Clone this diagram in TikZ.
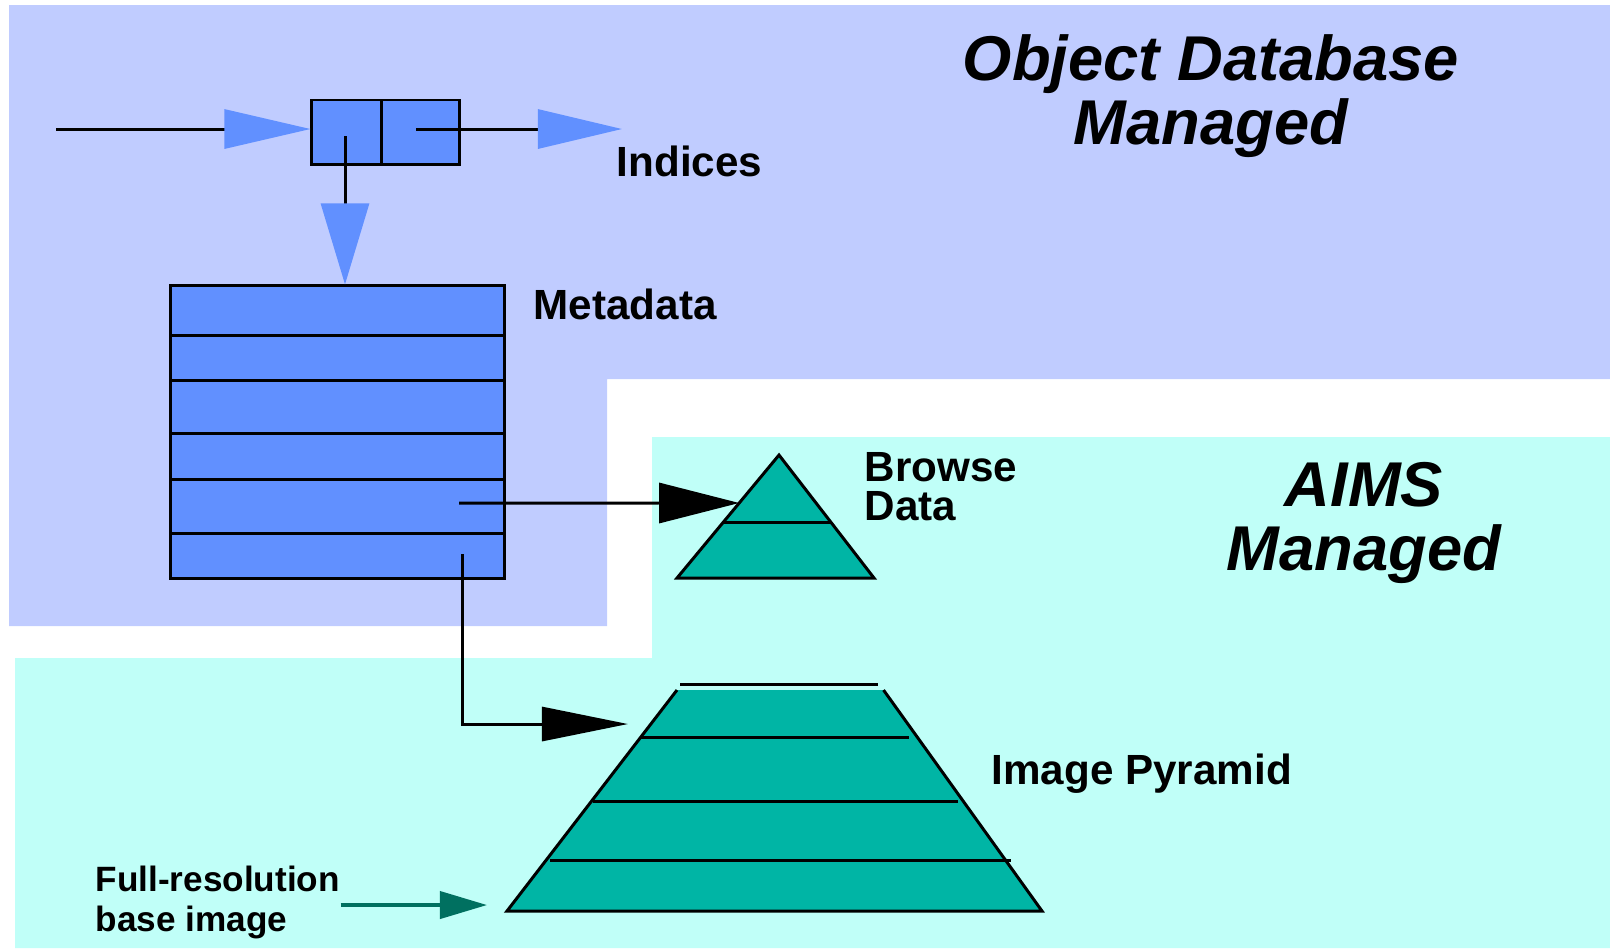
\documentclass[tikz,border=0pt]{standalone}
\usepackage{fontspec}
\setmainfont{Liberation Sans}
\usetikzlibrary{arrows.meta,calc}

\definecolor{odbBack}{RGB}{192,204,255}
\definecolor{aimsBack}{RGB}{192,255,248}
\definecolor{boxBlue}{RGB}{97,144,255}
\definecolor{pyrTeal}{RGB}{0,181,165}
\definecolor{darkTeal}{RGB}{0,112,96}

\begin{document}
\begin{tikzpicture}[x=0.01cm, y=-0.01cm,
	cell/.style={rectangle, draw=black, line width=0.85pt, fill=boxBlue, inner sep=0pt},
	txt/.style={inner sep=0pt, align=left, font=\fontsize{12}{11}\selectfont\bfseries},
	bigtxt/.style={inner sep=0pt, align=center, font=\fontsize{18}{18}\selectfont\bfseries\itshape},
	link/.style={line width=0.85pt},
	blueTip/.style={-{Triangle[length=#1, color=boxBlue]}}]
	\useasboundingbox (0,0) rectangle (1610,950);
	\fill[odbBack] (9,5) -- (1610,5) -- (1610,379) -- (607,379) -- (607,626) -- (9,626) -- cycle;
	\fill[aimsBack] (15,658) -- (652,658) -- (652,437) -- (1610,437) -- (1610,948) -- (15,948) -- cycle;
	\node[bigtxt](odbTitle) at (1211,96){Object Database\\Managed};
	\node[bigtxt](aimsTitle) at (1364,523){AIMS\\Managed};
	\node[cell, minimum width=0.70cm, minimum height=0.64cm](idxL) at (347,132){};
	\node[cell, minimum width=0.77cm, minimum height=0.64cm](idxR) at (420.5,132){};
	\node[txt, anchor=base west](indices) at (616,176){Indices};
	\node[cell, minimum width=3.33cm, minimum height=2.92cm](meta) at (337.5,432){};
	\foreach \y in {335,380,433,479,533}
		\draw[link] (meta.west |- 0,\y) -- (meta.east |- 0,\y);
	\node[txt, anchor=base west](metadata) at (533,319){Metadata};
	\coordinate(inStart) at (56,129);
	\coordinate(idxOut) at (416,129);
	\coordinate(idxEnd) at (622,129);
	\coordinate(idxDown) at (345,136);
	\draw[link, -{Triangle[length=0.86cm, width=0.39cm, color=boxBlue]}] (inStart) -- (idxL.west |- inStart);
	\draw[link, -{Triangle[length=0.84cm, width=0.39cm, color=boxBlue]}] (idxOut) -- (idxEnd);
	\draw[link, -{Triangle[length=0.81cm, width=0.48cm, color=boxBlue]}] (idxDown) -- (idxDown |- meta.north);
	\coordinate(brTop) at (779,455);
	\coordinate(brL) at (677,578);
	\coordinate(brR) at (874,578);
	\filldraw[link, fill=pyrTeal] (brTop) -- (brR) -- (brL) -- cycle;
	\draw[link] ($(brTop)!0.545!(brL)$) -- ($(brTop)!0.545!(brR)$);
	\node[txt, anchor=west](browse) at (864,487){Browse\\Data};
	\coordinate(metaA) at (459,503);
	\coordinate(brIn) at ($(brTop)!0.39!(brL)$);
	\draw[link, -{Triangle[length=0.80cm, width=0.40cm]}] (metaA) -- (brIn);
	\coordinate(pyTL) at (677,690);
	\coordinate(pyTR) at (883.5,690);
	\coordinate(pyBL) at (507,911);
	\coordinate(pyBR) at (1042,911);
	\fill[pyrTeal] (pyTL) -- (pyTR) -- (pyBR) -- (pyBL) -- cycle;
	\draw[link] (pyTL) -- (pyBL) -- (pyBR) -- (pyTR);
	\draw[link] (680,684) -- (878,684);
	\foreach \y/\xa/\xb in {737/641/909, 801/593/958, 860/550/1011}
		\draw[link] (\xa,\y) -- (\xb,\y);
	\node[txt, anchor=base west](pyramid) at (991,784){Image Pyramid};
	\coordinate(metaB) at (462,554);
	\coordinate(pyIn) at (628,724);
	\draw[link, -{Triangle[length=0.86cm, width=0.34cm]}] (metaB) |- (pyIn);
	\node[txt, anchor=west, font=\fontsize{10}{11.4}\selectfont\bfseries](fullres) at (95,902){Full-resolution\\base image};
	\coordinate(fullIn) at (487,905);
	\draw[line width=1.1pt, darkTeal, -{Triangle[length=0.47cm, width=0.27cm]}] (fullres.east |- fullIn) -- (fullIn);
\end{tikzpicture}
\end{document}
